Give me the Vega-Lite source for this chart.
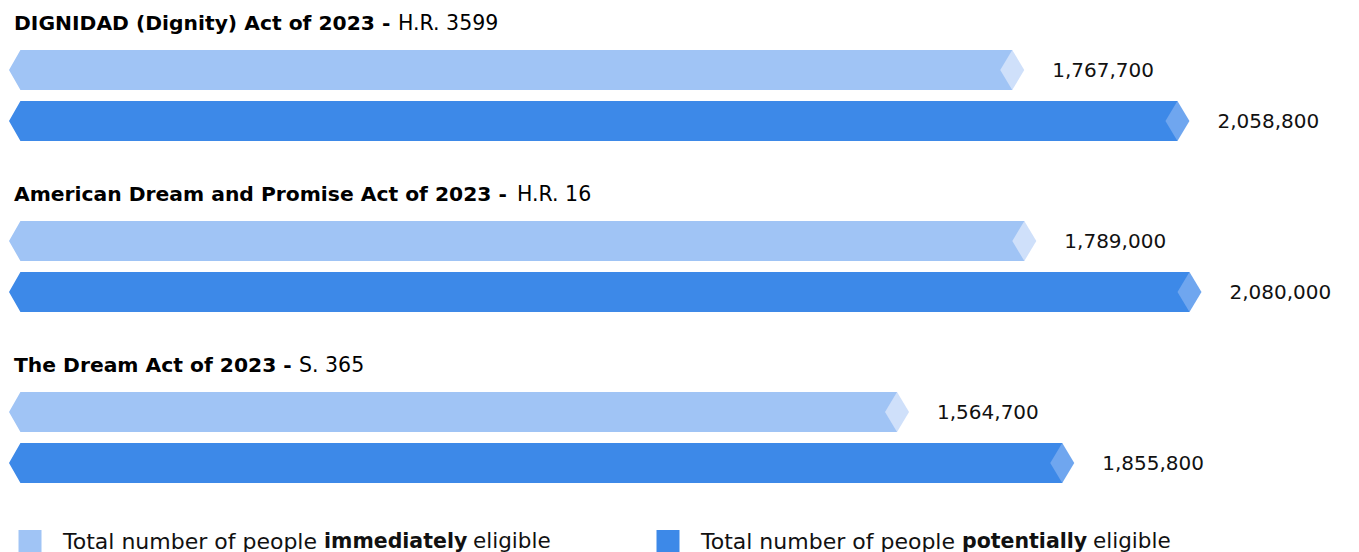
{
  "$schema": "https://vega.github.io/schema/vega-lite/v6.json",
  "padding": {"left": 9, "top": 0, "right": 0, "bottom": 0},
  "spacing": 0,
  "bounds": "flush",
  "config": {"view": {"stroke": null}, "font": "DejaVu Sans"},
  "datasets": {
    "bills": [
      {"bill": "DIGNIDAD (Dignity) Act of 2023 -", "code": "H.R. 3599", "type": "immediate", "value": 1767700},
      {"bill": "DIGNIDAD (Dignity) Act of 2023 -", "code": "H.R. 3599", "type": "potential", "value": 2058800},
      {"bill": "American Dream and Promise Act of 2023 -", "code": "H.R. 16", "type": "immediate", "value": 1789000},
      {"bill": "American Dream and Promise Act of 2023 -", "code": "H.R. 16", "type": "potential", "value": 2080000},
      {"bill": "The Dream Act of 2023 -", "code": "S. 365", "type": "immediate", "value": 1564700},
      {"bill": "The Dream Act of 2023 -", "code": "S. 365", "type": "potential", "value": 1855800}
    ],
    "legend": [
      {"type": "immediate", "bold": "immediately"},
      {"type": "potential", "bold": "potentially"}
    ]
  },
  "vconcat": [
    {
      "width": 1350,
      "height": 513,
      "data": {"name": "bills"},
      "encoding": {
        "y": {"field": "bill", "type": "nominal", "sort": null, "scale": {"paddingInner": 0, "paddingOuter": 0, "round": false}, "axis": null}
      },
      "layer": [
        {
          "mark": {"type": "bar", "cornerRadius": 0},
          "encoding": {
            "x": {"field": "value", "type": "quantitative", "scale": {"domain": [0, 2378700], "nice": false, "zero": true}, "axis": null},
            "yOffset": {"field": "type", "type": "nominal", "sort": ["immediate", "potential"], "scale": {"paddingInner": 0.2157, "paddingOuter": 0.7843, "align": 0.625, "round": false}},
            "color": {"field": "type", "type": "nominal", "scale": {"domain": ["immediate", "potential"], "range": ["#a0c4f5", "#3d89e8"]}, "legend": null}
          }
        },
        {
          "mark": {"type": "point", "shape": "M0,-1.05L0.6,-1.05L0,0L0.6,1.05L0,1.05Z", "size": 1600, "filled": true, "fill": "#ffffff", "opacity": 1, "strokeWidth": 0},
          "encoding": {
            "x": {"datum": 0, "type": "quantitative"},
            "yOffset": {"field": "type", "type": "nominal", "sort": ["immediate", "potential"]}
          }
        },
        {
          "mark": {"type": "point", "shape": "M-0.6,0L0,-1L0.6,0L0,1Z", "size": 1600, "filled": true, "opacity": 1, "strokeWidth": 0},
          "encoding": {
            "x": {"field": "value", "type": "quantitative"},
            "yOffset": {"field": "type", "type": "nominal", "sort": ["immediate", "potential"]},
            "fill": {"condition": {"test": "datum.type === 'immediate'", "value": "#cfe0fa"}, "value": "#6fa6ef"}
          }
        },
        {
          "mark": {"type": "text", "align": "left", "baseline": "middle", "dx": 40, "dy": 1, "fontSize": 20, "color": "#111111"},
          "encoding": {
            "x": {"field": "value", "type": "quantitative"},
            "yOffset": {"field": "type", "type": "nominal", "sort": ["immediate", "potential"]},
            "text": {"field": "value", "type": "quantitative", "format": ","}
          }
        },
        {
          "transform": [{"filter": "datum.type === 'immediate'"}],
          "mark": {"type": "text", "align": "left", "baseline": "alphabetic", "dx": 5, "dy": 30, "fontSize": 20.3, "fontWeight": "bold", "color": "#000000"},
          "encoding": {
            "x": {"datum": 0, "type": "quantitative"},
            "y": {"field": "bill", "type": "nominal", "sort": null, "bandPosition": 0},
            "text": {"field": "bill"}
          }
        },
        {
          "transform": [{"filter": "datum.type === 'immediate' && datum.code === 'H.R. 3599'"}],
          "mark": {"type": "text", "align": "left", "baseline": "alphabetic", "dx": 389, "dy": 30, "fontSize": 20.5, "color": "#000000"},
          "encoding": {
            "x": {"datum": 0, "type": "quantitative"},
            "y": {"field": "bill", "type": "nominal", "sort": null, "bandPosition": 0},
            "text": {"field": "code"}
          }
        },
        {
          "transform": [{"filter": "datum.type === 'immediate' && datum.code === 'H.R. 16'"}],
          "mark": {"type": "text", "align": "left", "baseline": "alphabetic", "dx": 508, "dy": 30, "fontSize": 20.5, "color": "#000000"},
          "encoding": {
            "x": {"datum": 0, "type": "quantitative"},
            "y": {"field": "bill", "type": "nominal", "sort": null, "bandPosition": 0},
            "text": {"field": "code"}
          }
        },
        {
          "transform": [{"filter": "datum.type === 'immediate' && datum.code === 'S. 365'"}],
          "mark": {"type": "text", "align": "left", "baseline": "alphabetic", "dx": 290, "dy": 30, "fontSize": 20.5, "color": "#000000"},
          "encoding": {
            "x": {"datum": 0, "type": "quantitative"},
            "y": {"field": "bill", "type": "nominal", "sort": null, "bandPosition": 0},
            "text": {"field": "code"}
          }
        }
      ]
    },
    {
      "width": 1350,
      "height": 57,
      "data": {"name": "legend"},
      "encoding": {
        "x": {"field": "type", "type": "nominal", "sort": ["immediate", "potential"], "scale": {"type": "point", "domain": ["immediate", "potential"], "padding": 0.558, "align": 0.0295, "round": false}, "axis": null}
      },
      "layer": [
        {
          "mark": {"type": "square", "size": 529, "filled": true, "opacity": 1},
          "encoding": {
            "color": {"field": "type", "type": "nominal", "scale": {"domain": ["immediate", "potential"], "range": ["#a0c4f5", "#3d89e8"]}, "legend": null}
          }
        },
        {
          "mark": {"type": "text", "align": "left", "baseline": "middle", "dx": 33, "fontSize": 22, "color": "#111111"},
          "encoding": {"text": {"value": "Total number of people"}}
        },
        {
          "mark": {"type": "text", "align": "left", "baseline": "middle", "dx": 294, "fontSize": 20.5, "fontWeight": "bold", "color": "#111111"},
          "encoding": {"text": {"field": "bold"}}
        },
        {
          "transform": [{"filter": "datum.type === 'immediate'"}],
          "mark": {"type": "text", "align": "left", "baseline": "middle", "dx": 443, "fontSize": 21.5, "color": "#111111"},
          "encoding": {"text": {"value": "eligible"}}
        },
        {
          "transform": [{"filter": "datum.type === 'potential'"}],
          "mark": {"type": "text", "align": "left", "baseline": "middle", "dx": 425, "fontSize": 21.5, "color": "#111111"},
          "encoding": {"text": {"value": "eligible"}}
        }
      ]
    }
  ]
}
